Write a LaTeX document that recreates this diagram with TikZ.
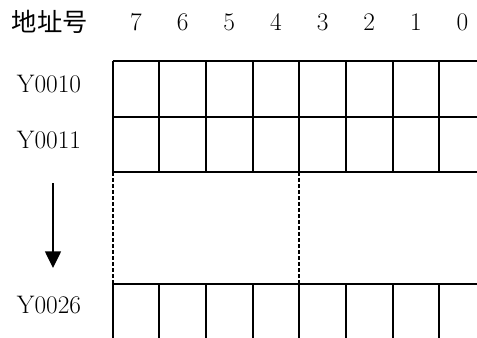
\documentclass[tikz,border=0pt]{standalone}
\usepackage{fontspec}
\newfontfamily\cjk{Noto Sans CJK SC}
\usetikzlibrary{arrows.meta}

\begin{document}
\begin{tikzpicture}[x=0.75pt, y=-0.75pt,
  linea/.style={line width=1.5pt, black},
  punteada/.style={line width=1.4pt, dash pattern=on 3pt off 1.5pt},
  flecha/.style={-{Triangle[length=12.5pt, width=12pt]}, line width=1.1pt},
  rotulo/.style={font=\fontsize{19}{22}\selectfont, inner sep=0pt}]
  \useasboundingbox (0,0) rectangle (477,338);
  % cabecera
  \node[font=\cjk\fontsize{19}{22}\selectfont, inner sep=0pt] (titulo) at (50,22) {地址号};
  \foreach \b [count=\i from 0] in {7,6,5,4,3,2,1,0}
    \node[rotulo] (bit\b) at (136+46.65*\i,22) {\b};
  % direcciones
  \node[rotulo] (y10) at (49,84) {Y0010};
  \node[rotulo] (y11) at (49,140) {Y0011};
  \node[rotulo] (y26) at (49,305) {Y0026};
  % registros
  \foreach \y in {61,117,172,284}
    \draw[linea] (112.7,\y) -- (477,\y);
  \foreach \i in {0,...,7} {
    \draw[linea] (112.7+46.65*\i,61) -- (112.7+46.65*\i,172);
    \draw[linea] (112.7+46.65*\i,284) -- (112.7+46.65*\i,338);
  }
  \draw[punteada] (112.7,172) -- (112.7,284);
  \draw[punteada] (299.3,172) -- (299.3,284);
  % sentido
  \coordinate (ini) at (53,183);
  \coordinate (fin) at (53,268);
  \draw[flecha] (ini) -- (fin);
\end{tikzpicture}
\end{document}
